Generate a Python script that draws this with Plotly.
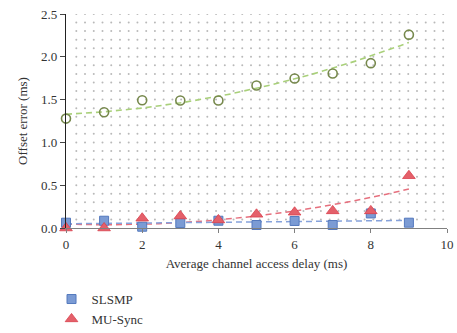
import numpy as np
import plotly.graph_objects as go

# Average channel access delay (ms)
delay = [0, 1, 2, 3, 4, 5, 6, 7, 8, 9]

# Offset error (ms) for each scheme
slsmp = [0.062, 0.085, 0.015, 0.058, 0.085, 0.035, 0.082, 0.035, 0.170, 0.062]
mu_sync = [0.0, 0.0, 0.114, 0.140, 0.094, 0.160, 0.184, 0.200, 0.200, 0.610]
mini_sync = [1.278, 1.352, 1.492, 1.489, 1.489, 1.665, 1.747, 1.805, 1.926, 2.259]

series_names = ["SLSMP", "MU-Sync", "Mini-Sync"]

x_ticks = [0, 2, 4, 6, 8, 10]
y_ticks = [0.0, 0.5, 1.0, 1.5, 2.0, 2.5]

SERIF = "Liberation Serif"

fig = go.Figure()

# dotted background lattice
gx = 0.27 + 0.2293 * np.arange(43)
gy = 2.5 - 0.1 * np.arange(25)
GX, GY = np.meshgrid(gx, gy)
fig.add_trace(go.Scatter(
    x=GX.ravel(), y=GY.ravel(), mode="markers",
    marker=dict(size=2, color="#b9b9b9", line=dict(width=0)),
    hoverinfo="skip", showlegend=False,
))

xs = np.array(delay, dtype=float)
xfit = np.linspace(0, 9, 200)


def trend(values, deg):
    coeffs = np.polyfit(xs, np.array(values, dtype=float), deg)
    return np.polyval(coeffs, xfit)


# fitted trend lines
fig.add_trace(go.Scatter(x=xfit, y=trend(mini_sync, 2), mode="lines",
                         line=dict(color="#a9d07a", width=1.6, dash="6px,4px"),
                         hoverinfo="skip", showlegend=False))
fig.add_trace(go.Scatter(x=xfit, y=trend(mu_sync, 2), mode="lines",
                         line=dict(color="#e6707e", width=1.5, dash="6px,4px"),
                         hoverinfo="skip", showlegend=False, cliponaxis=False))
fig.add_trace(go.Scatter(x=xfit, y=trend(slsmp, 1), mode="lines",
                         line=dict(color="#86a2db", width=1.5, dash="6px,4px"),
                         hoverinfo="skip", showlegend=False, cliponaxis=False))

# data points
fig.add_trace(go.Scatter(
    x=delay, y=slsmp, mode="markers", name=series_names[0], cliponaxis=False,
    marker=dict(symbol="square", size=9, color="#7b9bd4",
                line=dict(color="#5479bd", width=1)),
))
fig.add_trace(go.Scatter(
    x=delay, y=mu_sync, mode="markers", name=series_names[1], cliponaxis=False,
    marker=dict(symbol="triangle-up", size=11, color="#e4606a",
                line=dict(color="#d9404c", width=0.8)),
))
fig.add_trace(go.Scatter(
    x=delay, y=mini_sync, mode="markers", name=series_names[2], cliponaxis=False,
    marker=dict(symbol="circle-open", size=9, color="#76884c",
                line=dict(color="#76884c", width=1.6)),
))

fig.update_layout(
    width=457, height=333,
    margin=dict(l=66, r=10, t=14, b=105, autoexpand=False),
    paper_bgcolor="white", plot_bgcolor="white",
    font=dict(family=SERIF, size=13, color="#333333"),
    showlegend=True,
    legend=dict(
        x=-0.038, xanchor="left", y=-0.262, yanchor="top",
        orientation="v", bgcolor="rgba(0,0,0,0)",
        font=dict(family=SERIF, size=13, color="#333333"),
        tracegroupgap=0,
    ),
    xaxis=dict(
        range=[0, 10], tickvals=x_ticks, ticktext=[str(t) for t in x_ticks],
        showgrid=False, zeroline=False,
        showline=True, linecolor="#808080", linewidth=1.2,
        ticks="outside", ticklen=4, tickcolor="#808080",
        tickfont=dict(family=SERIF, size=13, color="#333333"),
        title=dict(text="Average channel access delay (ms)",
                   font=dict(family=SERIF, size=13, color="#333333"), standoff=8),
    ),
    yaxis=dict(
        range=[0, 2.5], tickvals=y_ticks, ticktext=[f"{t:.1f}" for t in y_ticks],
        showgrid=False, zeroline=False,
        showline=True, linecolor="#222222", linewidth=1.2,
        ticks="outside", ticklen=5, tickcolor="#444444",
        tickfont=dict(family=SERIF, size=13, color="#333333"),
        title=dict(text="Offset error (ms)",
                   font=dict(family=SERIF, size=13, color="#333333"), standoff=10),
    ),
)

fig.write_html("out.html")
